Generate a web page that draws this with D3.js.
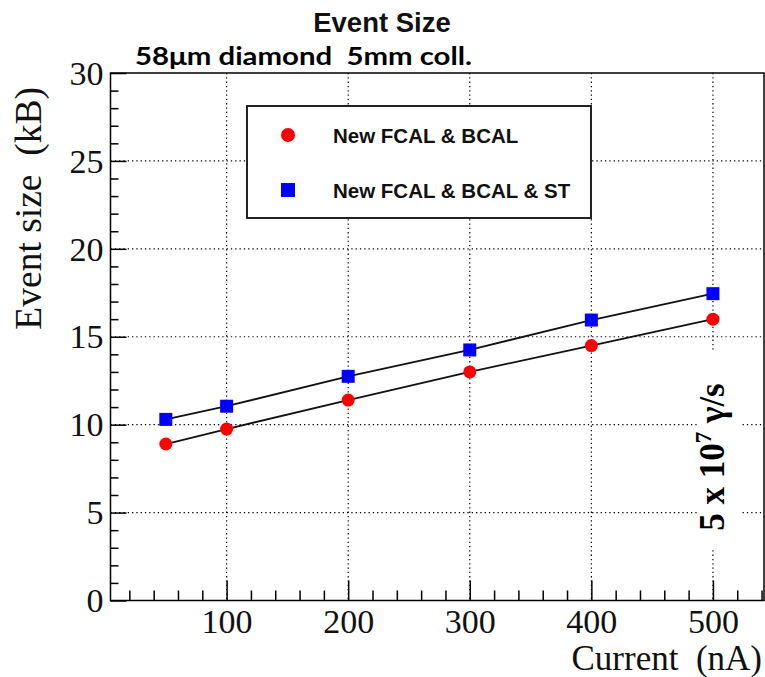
<!DOCTYPE html>
<html>
<head>
<meta charset="utf-8">
<script src="https://cdn.jsdelivr.net/npm/d3@7"></script>
<style>
  html, body { margin: 0; padding: 0; background: #fff; }
  svg { display: block; }
  text { white-space: pre; }
</style>
</head>
<body>
<svg id="chart" width="765" height="677"></svg>
<script>
// Beam current (nA) and event sizes (kB) for the two detector configurations
const currents = [50, 100, 200, 300, 400, 500];
const sizeFcalBcal = [8.9, 9.75, 11.4, 13.0, 14.5, 16.0];
const sizeFcalBcalSt = [10.3, 11.05, 12.75, 14.25, 15.95, 17.45];
const seriesNames = ["New FCAL & BCAL", "New FCAL & BCAL & ST"];
const xTickValues = [100, 200, 300, 400, 500];
const yTickValues = [0, 5, 10, 15, 20, 25, 30];

const svg = d3.select("#chart");
const frame = { left: 110.5, right: 764, top: 73, bottom: 600.5 };

const x = d3.scaleLinear().domain([4.5, 542]).range([frame.left, frame.right]);
const y = d3.scaleLinear().domain([0, 30]).range([frame.bottom, frame.top]);

const serif = "'Liberation Serif', 'Times New Roman', serif";
const sans = "'Liberation Sans', Arial, Helvetica, sans-serif";

// Dotted grid
const grid = svg.append("g").attr("stroke", "#000").attr("stroke-width", 1.2)
  .attr("stroke-dasharray", "1.3,3");
grid.selectAll("line.gx").data(xTickValues).join("line")
  .attr("x1", d => x(d)).attr("x2", d => x(d))
  .attr("y1", frame.top).attr("y2", frame.bottom);
grid.selectAll("line.gy").data(yTickValues.filter(v => v > 0 && v < 30)).join("line")
  .attr("x1", frame.left).attr("x2", frame.right)
  .attr("y1", d => y(d)).attr("y2", d => y(d));

// Minor and major ticks (inward), drawn with d3 axes
const xMinor = d3.range(20, 541, 20).filter(v => v % 100 !== 0);
const yMinor = d3.range(1, 30, 1).filter(v => v % 5 !== 0);

svg.append("g").attr("transform", `translate(0,${frame.bottom})`)
  .call(d3.axisBottom(x).tickValues(xMinor).tickSizeInner(-10).tickSizeOuter(0).tickFormat(""))
  .call(g => g.select(".domain").remove())
  .call(g => g.selectAll("line").attr("stroke", "#000").attr("stroke-width", 1.5));

const xAxis = svg.append("g").attr("transform", `translate(0,${frame.bottom})`)
  .call(d3.axisBottom(x).tickValues(xTickValues).tickSizeInner(-20).tickSizeOuter(0)
    .tickPadding(8).tickFormat(d3.format("d")))
  .call(g => g.select(".domain").remove())
  .call(g => g.selectAll("line").attr("stroke", "#000").attr("stroke-width", 1.5));
xAxis.selectAll("text").attr("font-family", serif).attr("font-size", 34).attr("fill", "#111");

svg.append("g").attr("transform", `translate(${frame.left},0)`)
  .call(d3.axisLeft(y).tickValues(yMinor).tickSizeInner(-8).tickSizeOuter(0).tickFormat(""))
  .call(g => g.select(".domain").remove())
  .call(g => g.selectAll("line").attr("stroke", "#000").attr("stroke-width", 1.5));

const yAxis = svg.append("g").attr("transform", `translate(${frame.left},0)`)
  .call(d3.axisLeft(y).tickValues(yTickValues).tickSizeInner(-16).tickSizeOuter(0)
    .tickPadding(7).tickFormat(d3.format("d")))
  .call(g => g.select(".domain").remove())
  .call(g => g.selectAll("line").attr("stroke", "#000").attr("stroke-width", 1.5));
yAxis.selectAll("text").attr("font-family", serif).attr("font-size", 34).attr("fill", "#111")
  .attr("dy", "0.33em");

// Frame
svg.append("rect")
  .attr("x", frame.left).attr("y", frame.top)
  .attr("width", frame.right - frame.left).attr("height", frame.bottom - frame.top)
  .attr("fill", "none").attr("stroke", "#000").attr("stroke-width", 1.5);

// Series: connecting lines then markers
const lineGen = d3.line().x(d => x(d[0])).y(d => y(d[1]));
const red = currents.map((c, i) => [c, sizeFcalBcal[i]]);
const blue = currents.map((c, i) => [c, sizeFcalBcalSt[i]]);

svg.append("path").datum(red).attr("d", lineGen)
  .attr("fill", "none").attr("stroke", "#111").attr("stroke-width", 1.8);
svg.append("path").datum(blue).attr("d", lineGen)
  .attr("fill", "none").attr("stroke", "#111").attr("stroke-width", 1.8);

svg.append("g").selectAll("circle").data(red).join("circle")
  .attr("cx", d => x(d[0])).attr("cy", d => y(d[1])).attr("r", 6.5)
  .attr("fill", "#ff0000");
const sq = 13;
svg.append("g").selectAll("rect").data(blue).join("rect")
  .attr("x", d => x(d[0]) - sq / 2).attr("y", d => y(d[1]) - sq / 2)
  .attr("width", sq).attr("height", sq)
  .attr("fill", "#0000ff");

// Legend
const legend = svg.append("g");
legend.append("rect")
  .attr("x", 247).attr("y", 106).attr("width", 344).attr("height", 112)
  .attr("fill", "#fff").attr("stroke", "#222").attr("stroke-width", 2);
legend.append("circle").attr("cx", 288).attr("cy", 135).attr("r", 7).attr("fill", "#ff0000");
legend.append("rect").attr("x", 281).attr("y", 183).attr("width", 14).attr("height", 14).attr("fill", "#0000ff");
legend.selectAll("text").data(seriesNames).join("text")
  .attr("x", 333).attr("y", (d, i) => i === 0 ? 143 : 198)
  .attr("font-family", sans).attr("font-weight", "bold").attr("font-size", 20.5)
  .attr("fill", "#111").text(d => d);

// Photon-rate annotation (white box hides grid behind it)
svg.append("rect").attr("x", 697).attr("y", 352).attr("width", 45).attr("height", 196).attr("fill", "#fff");
const rate = svg.append("text")
  .attr("transform", "translate(724,457) rotate(-90)")
  .attr("text-anchor", "middle")
  .attr("font-family", serif).attr("font-weight", "bold").attr("font-size", 35).attr("fill", "#000");
rate.append("tspan").text("5 x 10");
rate.append("tspan").attr("font-size", 23).attr("dy", -13).text("7");
rate.append("tspan").attr("dy", 13).text(" γ/s");

// Axis titles
svg.append("text")
  .attr("x", 762).attr("y", 670).attr("text-anchor", "end")
  .attr("font-family", serif).attr("font-size", 35).attr("fill", "#111")
  .text("Current  (nA)");
svg.append("text")
  .attr("transform", "translate(41,87) rotate(-90)").attr("text-anchor", "end")
  .attr("font-family", serif).attr("font-size", 37.5).attr("fill", "#111")
  .text("Event size  (kB)");

// Titles
svg.append("text")
  .attr("x", 382).attr("y", 32).attr("text-anchor", "middle")
  .attr("font-family", sans).attr("font-weight", "bold").attr("font-size", 27.5).attr("fill", "#111")
  .text("Event Size");
svg.append("text")
  .attr("x", 135).attr("y", 65)
  .attr("font-family", "Lato, 'Open Sans', sans-serif").attr("font-weight", "bold").attr("font-size", 25)
  .attr("textLength", 337).attr("lengthAdjust", "spacingAndGlyphs").attr("fill", "#000")
  .text("58μm diamond  5mm coll.");
</script>
</body>
</html>
